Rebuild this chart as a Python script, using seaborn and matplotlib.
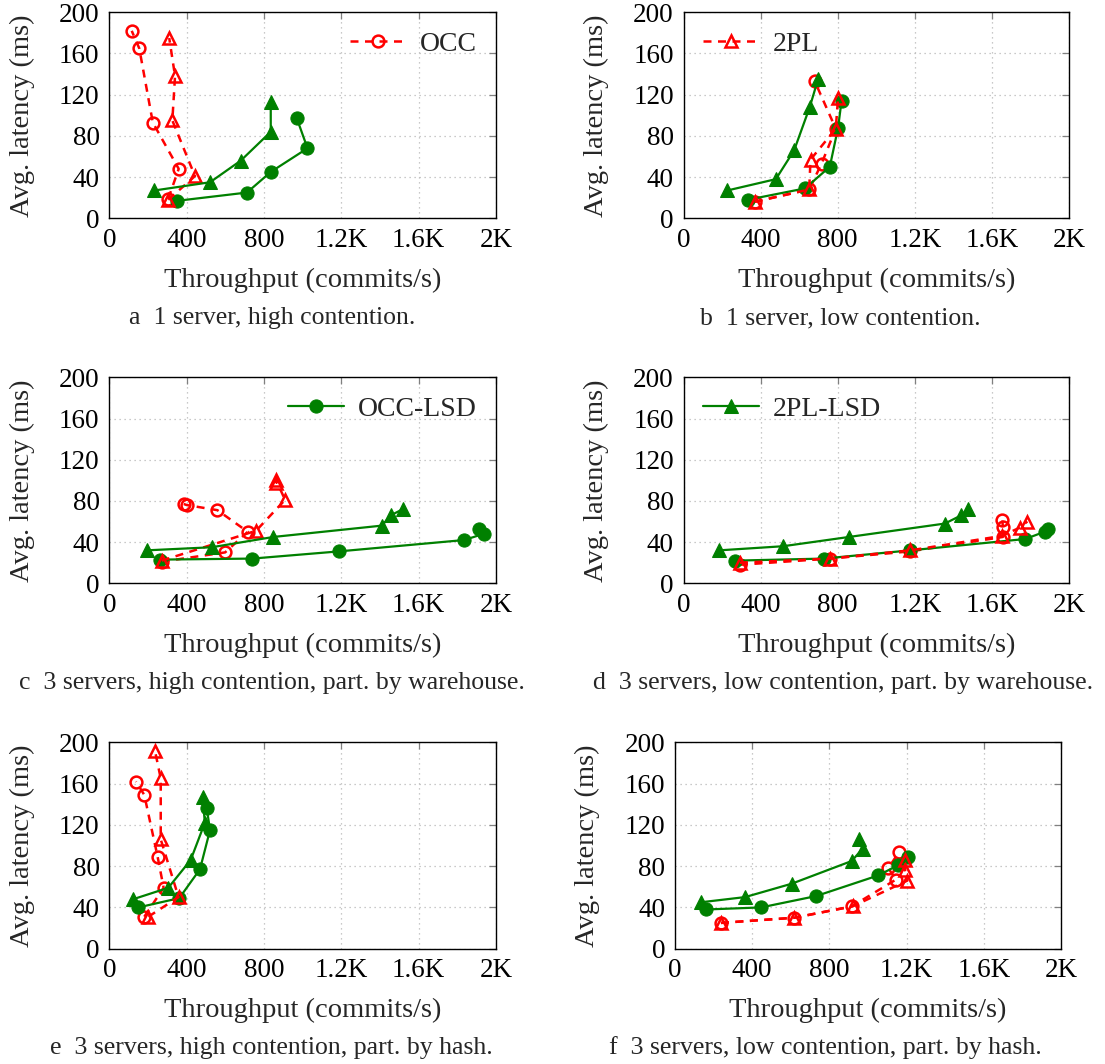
import matplotlib
matplotlib.use("Agg")
import matplotlib.pyplot as plt
import seaborn as sns
import pandas as pd

# ---------------- data ----------------
a_occ_x = [305, 359, 225, 155, 116]
a_occ_y = [19, 48, 93, 165, 182]
a_2pl_x = [305, 443, 326, 340, 310]
a_2pl_y = [18, 41, 95, 138, 175]
a_occlsd_x = [352, 712, 835, 1025, 970]
a_occlsd_y = [17, 25, 45, 68, 97]
a_2pllsd_x = [233, 521, 680, 835, 835]
a_2pllsd_y = [27, 35, 56, 84, 113]

b_occ_x = [369, 652, 716, 790, 681]
b_occ_y = [16, 28, 53, 87, 133]
b_2pl_x = [369, 652, 659, 790, 802]
b_2pl_y = [16, 28, 57, 87, 117]
b_occlsd_x = [333, 630, 759, 802, 820]
b_occlsd_y = [18, 29, 50, 88, 114]
b_2pllsd_x = [227, 479, 574, 655, 698]
b_2pllsd_y = [27, 38, 66, 108, 135]

c_occ_x = [271, 599, 716, 559, 400, 385]
c_occ_y = [21, 30, 50, 71, 76, 77]
c_2pl_x = [271, 759, 909, 863, 861]
c_2pl_y = [22, 51, 81, 100, 97]
c_occlsd_x = [262, 740, 1189, 1835, 1936, 1913]
c_occlsd_y = [23, 24, 31, 42, 48, 53]
c_2pllsd_x = [194, 530, 849, 1410, 1456, 1518]
c_2pllsd_y = [32, 35, 45, 56, 66, 72]

d_occ_x = [293, 759, 1177, 1657, 1657, 1654]
d_occ_y = [18, 24, 31, 45, 55, 61]
d_2pl_x = [293, 759, 1177, 1652, 1744, 1784]
d_2pl_y = [20, 24, 32, 46, 54, 60]
d_occlsd_x = [267, 728, 1177, 1773, 1873, 1890]
d_occlsd_y = [22, 24, 32, 43, 50, 53]
d_2pllsd_x = [186, 517, 859, 1356, 1441, 1476]
d_2pllsd_y = [32, 36, 45, 58, 66, 72]

e_occ_x = [181, 281, 250, 181, 138]
e_occ_y = [31, 59, 89, 149, 162]
e_2pl_x = [202, 358, 266, 266, 236]
e_2pl_y = [31, 50, 106, 165, 192]
e_occlsd_x = [150, 362, 469, 521, 504]
e_occlsd_y = [40, 49, 77, 115, 136]
e_2pllsd_x = [124, 305, 421, 494, 483]
e_2pllsd_y = [48, 59, 86, 122, 147]

f_occ_x = [238, 618, 916, 1145, 1105, 1162]
f_occ_y = [25, 30, 41, 67, 78, 94]
f_2pl_x = [238, 618, 920, 1204, 1192, 1192]
f_2pl_y = [25, 30, 41, 66, 76, 86]
f_occlsd_x = [161, 446, 731, 1053, 1157, 1209]
f_occlsd_y = [38, 40, 51, 71, 81, 89]
f_2pllsd_x = [135, 363, 605, 916, 972, 953]
f_2pllsd_y = [45, 50, 63, 85, 97, 106]

x_ticks = [0, 400, 800, 1200, 1600, 2000]
x_tick_labels = ["0", "400", "800", "1.2K", "1.6K", "2K"]
y_ticks = [0, 40, 80, 120, 160, 200]

captions = [
    "a  1 server, high contention.",
    "b  1 server, low contention.",
    "c  3 servers, high contention, part. by warehouse.",
    "d  3 servers, low contention, part. by warehouse.",
    "e  3 servers, high contention, part. by hash.",
    "f  3 servers, low contention, part. by hash.",
]
series_names = ["OCC", "OCC-LSD", "2PL", "2PL-LSD"]

panels = [
    (a_occ_x, a_occ_y, a_occlsd_x, a_occlsd_y, a_2pl_x, a_2pl_y, a_2pllsd_x, a_2pllsd_y),
    (b_occ_x, b_occ_y, b_occlsd_x, b_occlsd_y, b_2pl_x, b_2pl_y, b_2pllsd_x, b_2pllsd_y),
    (c_occ_x, c_occ_y, c_occlsd_x, c_occlsd_y, c_2pl_x, c_2pl_y, c_2pllsd_x, c_2pllsd_y),
    (d_occ_x, d_occ_y, d_occlsd_x, d_occlsd_y, d_2pl_x, d_2pl_y, d_2pllsd_x, d_2pllsd_y),
    (e_occ_x, e_occ_y, e_occlsd_x, e_occlsd_y, e_2pl_x, e_2pl_y, e_2pllsd_x, e_2pllsd_y),
    (f_occ_x, f_occ_y, f_occlsd_x, f_occlsd_y, f_2pl_x, f_2pl_y, f_2pllsd_x, f_2pllsd_y),
]

# ---------------- style ----------------
sns.set_style("white")
plt.rcParams["font.family"] = ["Liberation Serif", "DejaVu Serif"]

RED = "#ff0000"
GREEN = "#008000"

styles = {
    "OCC": dict(color=RED, marker="o", markersize=8.5, markerfacecolor="none",
                markeredgecolor=RED, markeredgewidth=1.8, linewidth=1.8,
                linestyle=(0, (3.2, 2.6))),
    "OCC-LSD": dict(color=GREEN, marker="o", markersize=9.5, markerfacecolor=GREEN,
                    markeredgecolor=GREEN, linewidth=1.6, linestyle="-"),
    "2PL": dict(color=RED, marker="^", markersize=8.5, markerfacecolor="none",
                markeredgecolor=RED, markeredgewidth=1.8, linewidth=1.8,
                linestyle=(0, (3.2, 2.6))),
    "2PL-LSD": dict(color=GREEN, marker="^", markersize=9.5, markerfacecolor=GREEN,
                    markeredgecolor=GREEN, linewidth=1.6, linestyle="-"),
}

W, H = 1105, 1064
fig = plt.figure(figsize=(W / 100, H / 100), dpi=100)

# pixel boxes: (left, right, top, bottom)
boxes = [
    (109.3, 496, 12.3, 218.3),
    (683.5, 1069, 12.3, 218.3),
    (109.3, 496, 377.3, 583.3),
    (683.5, 1069, 377.3, 583.3),
    (109.3, 496, 742.3, 948.7),
    (675, 1061, 742.3, 948.7),
]
ylabel_x = [22, 596, 22, 596, 22, 587]
caption_pos = [(272, 318), (840, 318), (272, 683), (843, 683), (271, 1048), (825, 1048)]
legend_cfg = {0: ("OCC", "upper right"), 1: ("2PL", "upper left"),
              2: ("OCC-LSD", "upper right"), 3: ("2PL-LSD", "upper left")}

for i, (box, data) in enumerate(zip(boxes, panels)):
    l, r, t, b = box
    ax = fig.add_axes([l / W, 1 - b / H, (r - l) / W, (b - t) / H])
    handles = {}
    for k, name in enumerate(series_names):
        xs, ys = data[2 * k], data[2 * k + 1]
        df = pd.DataFrame({"x": xs, "y": ys})
        sns.lineplot(data=df, x="x", y="y", sort=False, estimator=None, ax=ax,
                     label=name, legend=False, zorder=3 + k, clip_on=False,
                     **styles[name])
        handles[name] = ax.lines[-1]
    ax.set_xlim(0, 2000)
    ax.set_ylim(0, 200)
    ax.set_xticks(x_ticks)
    ax.set_xticklabels(x_tick_labels)
    ax.set_yticks(y_ticks)
    ax.grid(True, color="#b8b8b8", linestyle=(0, (1, 3)), linewidth=0.9)
    ax.tick_params(axis="both", which="both", direction="in", length=5, width=0.9,
                   color="#808080", labelsize=19.5, top=True, right=True,
                   labelcolor="black")
    ax.tick_params(axis="x", pad=7)
    ax.tick_params(axis="y", pad=7)
    for sp in ax.spines.values():
        sp.set_color("black")
        sp.set_linewidth(1.0)
        sp.set_visible(True)
    ax.set_xlabel("Throughput (commits/s)", fontsize=20.5)
    ax.set_ylabel("Avg. latency (ms)", fontsize=20.5)
    ax.xaxis.set_label_coords(0.5, -62 / (b - t))
    ax.xaxis.label.set_va("center")
    ax.yaxis.set_label_coords((ylabel_x[i] - l) / (r - l), 0.5)
    ax.yaxis.label.set_va("center")
    if i in legend_cfg:
        name, loc = legend_cfg[i]
        ax.legend(handles=[handles[name]], labels=[name], loc=loc, frameon=False,
                  fontsize=20, handlelength=2.0, handletextpad=0.5,
                  borderaxespad=0.3)
    cx, cy = caption_pos[i]
    fig.text(cx / W, 1 - cy / H, captions[i], ha="center", va="center", fontsize=18.5)

fig.savefig("out.png", dpi=100)
